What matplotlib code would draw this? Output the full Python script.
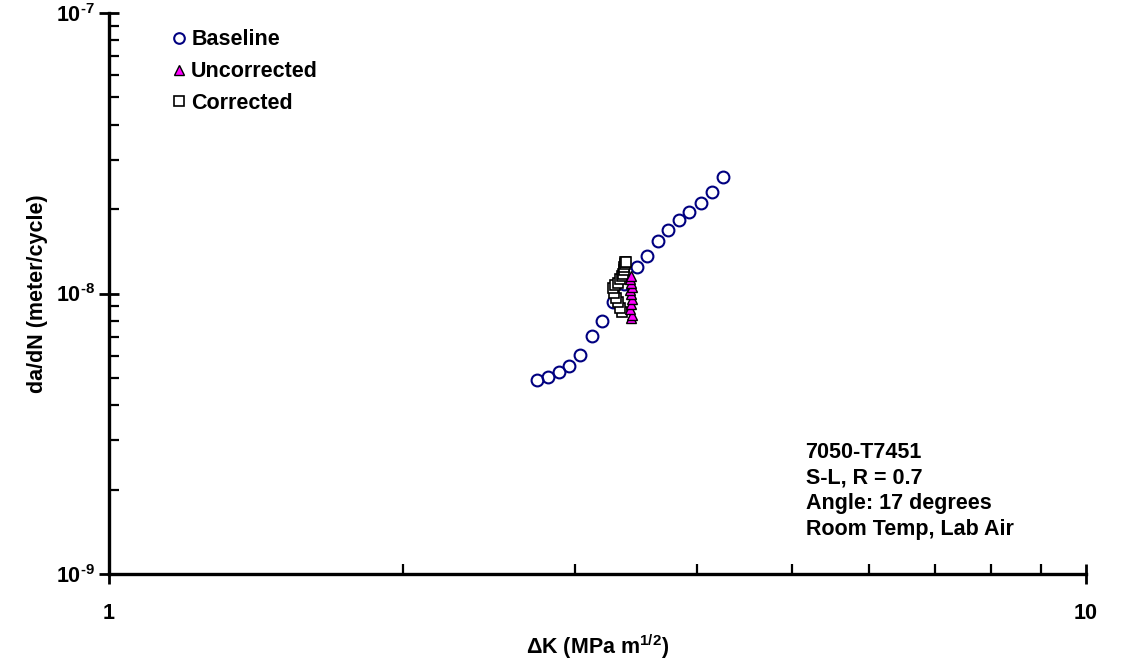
import numpy as np
import matplotlib
matplotlib.use('Agg')
import matplotlib.pyplot as plt
from matplotlib.ticker import LogLocator, NullFormatter, FixedLocator

plt.rcParams['font.family'] = 'Liberation Sans'
plt.rcParams['font.weight'] = 'bold'
plt.rcParams['mathtext.fontset'] = 'custom'
plt.rcParams['mathtext.rm'] = 'Liberation Sans:bold'
plt.rcParams['mathtext.bf'] = 'Liberation Sans:bold'
plt.rcParams['mathtext.default'] = 'bf'
plt.rcParams['axes.unicode_minus'] = False

# baseline data
base_dk = [2.740, 2.816, 2.888, 2.959, 3.034, 3.120, 3.194, 3.278, 3.370,
           3.467, 3.550, 3.643, 3.736, 3.831, 3.926, 4.034, 4.141, 4.255]
base_dadn = [4.915e-9, 5.026e-9, 5.250e-9, 5.515e-9, 6.035e-9, 7.04e-9, 8.01e-9, 9.31e-9, 1.077e-8,
             1.245e-8, 1.358e-8, 1.545e-8, 1.691e-8, 1.825e-8, 1.956e-8, 2.106e-8, 2.310e-8, 2.606e-8]

# uncorrected
unc_dk = [3.422, 3.430, 3.414, 3.422, 3.430, 3.422, 3.414, 3.430, 3.422, 3.414, 3.422]
unc_dadn = [8.145e-9, 8.41e-9, 8.77e-9, 9.14e-9, 9.52e-9, 9.92e-9, 1.025e-8, 1.059e-8,
            1.094e-8, 1.131e-8, 1.159e-8]

# corrected
cor_dk = [3.350, 3.334, 3.319, 3.303, 3.288, 3.281, 3.296, 3.319, 3.334, 3.350,
          3.358, 3.366, 3.366, 3.374, 3.374, 3.382]
cor_dadn = [8.56e-9, 8.91e-9, 9.29e-9, 9.67e-9, 1.008e-8, 1.042e-8, 1.068e-8, 1.094e-8,
            1.122e-8, 1.150e-8, 1.178e-8, 1.208e-8, 1.238e-8, 1.269e-8, 1.290e-8, 1.300e-8]

ytick_vals = [1e-9, 1e-8, 1e-7]
ytick_labels = [r'$10^{\text{-}9}$', r'$10^{\text{-}8}$', r'$10^{\text{-}7}$']

fs = 15.5

fig = plt.figure(figsize=(11.41, 6.70), dpi=100)
ax = fig.add_axes([109/1141, 1-574/670, (1086-109)/1141, (574-13)/670])

ax.plot(base_dk, base_dadn, 'o', ms=8.5, mfc='none', mec='#000080', mew=1.5,
        label='Baseline', zorder=2)
ax.plot(cor_dk, cor_dadn, 's', ms=7.5, mfc='white', mec='black', mew=1.2,
        label='Corrected', zorder=3)
ax.plot(unc_dk, unc_dadn, '^', ms=7.5, mfc='#ff00ff', mec='black', mew=1.0,
        label='Uncorrected', zorder=4)

ax.set_xscale('log')
ax.set_yscale('log')
ax.set_xlim(1, 10)
ax.set_ylim(1e-9, 1e-7)

for s in ['top', 'right']:
    ax.spines[s].set_visible(False)
for s in ['left', 'bottom']:
    ax.spines[s].set_linewidth(2.4)

ax.xaxis.set_major_locator(FixedLocator([1, 10]))
ax.set_xticklabels(['1', '10'])
ax.xaxis.set_minor_locator(LogLocator(base=10, subs=np.arange(2, 10)))
ax.xaxis.set_minor_formatter(NullFormatter())
ax.yaxis.set_major_locator(FixedLocator(ytick_vals))
ax.set_yticklabels(ytick_labels)
ax.yaxis.set_minor_locator(LogLocator(base=10, subs=np.arange(2, 10)))
ax.yaxis.set_minor_formatter(NullFormatter())

ax.tick_params(which='major', direction='inout', length=14, width=2.0, labelsize=fs)
ax.tick_params(which='minor', direction='in', length=7, width=1.6)
ax.tick_params(axis='x', which='major', pad=14)
ax.tick_params(axis='y', which='major', pad=3)

ax.set_xlabel(r'$\Delta$K (MPa m$^{1/2}$)', fontsize=fs, fontweight='bold', labelpad=6)
ax.set_ylabel('da/dN (meter/cycle)', fontsize=fs, fontweight='bold', labelpad=6)

h, l = ax.get_legend_handles_labels()
order = [0, 2, 1]
ax.legend([h[i] for i in order], [l[i] for i in order], loc='upper left',
          bbox_to_anchor=(0.050, 0.99), frameon=False, fontsize=fs,
          handletextpad=0.05, labelspacing=0.5, handlelength=1.0, markerscale=0.9,
          borderpad=0.0)

ax.text(0.713, 0.236, '7050-T7451\nS-L, R = 0.7\nAngle: 17 degrees\nRoom Temp, Lab Air',
        transform=ax.transAxes, fontsize=fs, fontweight='bold', va='top',
        linespacing=1.3)

fig.savefig('out.png', dpi=100)
